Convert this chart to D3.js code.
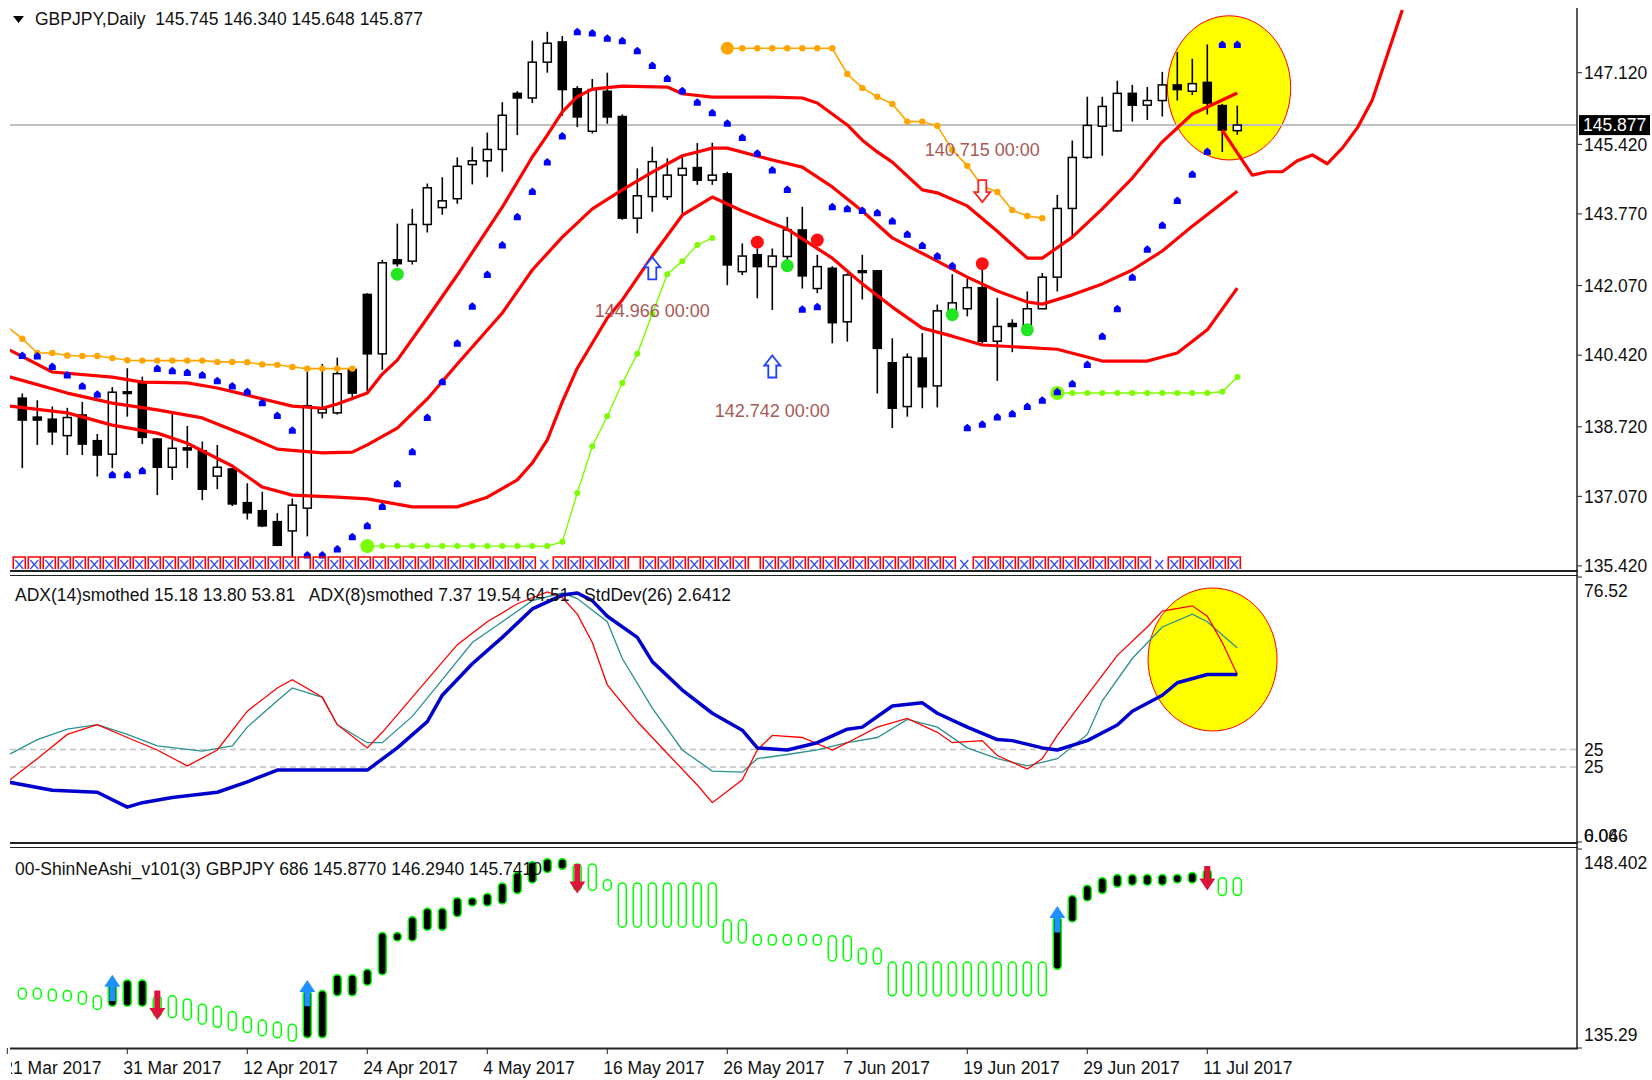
<!DOCTYPE html>
<html>
<head>
<meta charset="utf-8">
<script src="https://cdn.jsdelivr.net/npm/d3@7"></script>
<style>
body { margin: 0; background: #fff; }
svg { display: block; }
text { font-family: "Liberation Sans", Arial, sans-serif; font-size: 17.5px; fill: #111; }
</style>
</head>
<body>
<svg id="chart" width="1652" height="1080"></svg>
<script>
// GBPJPY daily candles, 22 Mar 2017 .. 13 Jul 2017 (bar 0 .. 81)
var opens = [139.40,138.95,138.90,138.51,139.00,138.39,138.07,139.55,139.79,138.43,
	137.76,138.22,138.15,137.55,137.72,136.92,136.73,136.47,136.25,136.79,
	139.05,139.05,140.08,141.86,140.45,142.68,142.65,143.52,143.92,144.13,
	144.94,145.03,145.30,146.63,146.52,147.37,147.85,146.74,145.73,146.68,
	146.08,143.67,144.18,144.18,144.69,144.87,144.57,144.72,142.40,142.80,
	142.52,142.76,143.39,142.00,142.48,141.21,142.42,142.42,140.24,139.20,
	140.35,139.69,141.47,141.52,142.02,140.75,141.17,141.13,141.52,142.27,
	143.90,145.11,145.85,145.74,146.63,146.35,146.46,146.83,146.68,146.89,
	146.34,145.745];
var highs = [139.51,139.35,139.20,139.17,139.31,138.55,139.66,140.11,139.91,138.45,
	139.04,138.74,138.37,138.29,137.74,137.38,137.18,136.67,137.02,140.03,
	140.21,140.36,140.11,141.89,142.68,143.54,143.89,144.49,144.64,145.11,
	145.36,145.70,146.42,146.68,147.88,148.09,147.99,146.80,146.97,147.12,
	146.13,144.85,145.36,145.09,145.13,145.45,145.46,144.77,143.07,142.95,
	142.95,143.70,143.94,142.80,142.53,142.36,142.80,142.44,140.82,140.46,
	140.94,141.62,142.34,142.23,142.44,141.78,141.27,141.93,142.37,144.22,
	145.51,146.55,146.55,146.93,146.83,146.78,147.14,147.61,147.45,147.79,
	146.38,146.340];
var lows = [137.74,138.29,138.29,138.05,138.05,137.54,137.74,138.96,138.31,137.10,
	137.46,137.74,136.98,137.24,136.84,136.52,136.34,135.89,135.64,136.12,
	138.92,139.01,139.35,139.56,140.07,142.52,142.57,143.33,143.75,144.01,
	144.47,144.64,144.77,145.64,146.40,147.12,146.10,145.83,145.68,145.91,
	143.63,143.31,143.82,144.10,143.78,144.46,144.46,142.08,142.32,141.77,
	141.49,142.56,142.00,141.89,140.70,140.74,141.74,139.51,138.69,138.96,
	139.16,139.18,141.34,141.34,140.70,139.81,140.49,141.00,141.51,141.93,
	143.24,145.08,145.15,145.72,145.96,146.00,146.08,146.46,146.59,146.13,
	145.24,145.648];
var closes = [138.88,138.88,138.60,138.94,138.31,138.05,139.54,139.51,138.47,137.76,
	138.21,138.17,137.24,137.76,136.89,136.68,136.37,135.91,136.86,139.22,
	139.14,139.98,139.52,140.45,142.61,142.59,143.52,144.39,144.08,144.90,
	145.03,145.30,146.11,146.52,147.37,147.82,146.72,146.07,146.72,146.07,
	143.67,144.20,145.01,144.69,144.85,144.57,144.69,142.56,142.77,142.52,
	142.77,143.39,142.30,142.52,141.19,142.32,142.38,140.58,139.16,140.37,
	139.67,141.47,141.66,142.02,140.75,141.10,141.10,141.52,142.27,143.90,
	145.11,145.87,146.32,146.63,146.35,146.46,146.83,146.72,146.86,146.40,
	145.76,145.877];

// parabolic SAR, one per bar
var sar = [140.41,140.40,140.15,139.95,139.69,139.49,137.58,137.58,137.68,140.10,
	140.05,140.01,139.95,139.81,139.69,139.55,139.29,138.99,138.64,135.68,
	135.68,135.82,136.11,136.37,136.83,137.37,138.13,138.94,139.79,140.70,
	141.58,142.33,143.03,143.70,144.30,145.00,145.62,148.09,148.06,147.94,
	147.88,147.64,147.29,146.98,146.69,146.42,146.17,145.92,145.58,145.21,
	144.81,144.35,141.51,141.57,143.94,143.89,143.85,143.80,143.60,143.29,
	143.02,142.77,142.54,138.70,138.78,138.95,139.03,139.20,139.35,139.55,
	139.74,140.20,140.87,141.52,142.27,142.93,143.50,144.09,144.71,145.25,
	147.79,147.79];

// envelope bands [bar, price]
var bandUpper = [[-1,140.57],[2,140.02],[6,139.90],[8,139.78],[11,139.76],[13,139.64],[15,139.47],[18,139.21],
	[20,139.16],[21,139.26],[23,139.52],[24,139.97],[25,140.30],[27,141.30],[29,142.32],[32,143.93],[34,145.12],
	[35,145.64],[36,146.19],[37,146.55],[38,146.73],[40,146.80],[43,146.78],[44,146.62],[46,146.54],[50,146.54],
	[52,146.52],[53,146.40],[55,145.88],[56,145.52],[57,145.24],[58,145.00],[60,144.34],[61,144.27],[63,143.96],
	[65,143.36],[67,142.72],[68,142.72],[70,143.22],[72,143.89],[74,144.62],[76,145.48],[78,146.14],[81,146.64]];
var bandMiddle = [[-1,139.92],[3,139.52],[6,139.28],[9,139.12],[12,138.93],[15,138.50],[17,138.19],[20,138.10],
	[22,138.12],[23,138.29],[25,138.69],[27,139.38],[29,140.21],[32,141.42],[34,142.44],[36,143.22],[38,143.89],
	[40,144.34],[42,144.76],[44,145.15],[46,145.33],[47,145.33],[50,145.05],[52,144.88],[54,144.41],[56,143.84],
	[58,143.20],[61,142.65],[63,142.27],[65,141.94],[67,141.68],[68,141.63],[70,141.85],[72,142.11],[74,142.44],
	[76,142.89],[78,143.48],[81,144.31]];
var bandLower = [[-1,139.22],[3,139.05],[6,138.76],[9,138.57],[11,138.33],[14,137.79],[16,137.29],[18,137.10],
	[21,137.05],[23,137.01],[26,136.82],[29,136.82],[31,137.05],[33,137.46],[34,137.86],[35,138.41],[36,139.31],
	[37,140.11],[39,141.30],[40,141.73],[42,142.77],[44,143.74],[46,144.17],[48,143.84],[50,143.55],[51,143.41],
	[54,142.72],[56,142.11],[58,141.56],[60,141.06],[62,140.87],[64,140.66],[69,140.56],[72,140.28],[75,140.28],
	[77,140.47],[79,141.02],[81,142.01]];
var forecast = [[80,145.76],[81,145.22],[82,144.69],[83,144.77],[84,144.77],[85,145.03],[86,145.17],[87,144.96],
	[88,145.33],[89,145.81],[90,146.47],[91,147.54],[92,148.61]];

// support / resistance steps
var orange1 = [[-1,141.09],[0,140.81],[1,140.47],[2,140.47],[3,140.41],[4,140.40],[5,140.40],[6,140.35],[7,140.30],
	[8,140.29],[9,140.29],[10,140.29],[11,140.29],[12,140.29],[13,140.26],[14,140.26],[15,140.25],[16,140.20],
	[17,140.19],[18,140.14],[19,140.10],[20,140.10],[21,140.10],[22,140.10]];
var orange2 = [[47,147.70],[48,147.70],[49,147.70],[50,147.70],[51,147.70],[52,147.70],[53,147.70],[54,147.70],
	[55,147.09],[56,146.76],[57,146.55],[58,146.38],[59,145.96],[60,145.96],[61,145.86],[62,145.29],[63,144.91],
	[64,144.43],[65,144.29],[66,143.86],[67,143.72],[68,143.67]];
var green1 = [[23,135.89],[24,135.89],[25,135.89],[26,135.89],[27,135.89],[28,135.89],[29,135.89],[30,135.89],
	[31,135.89],[32,135.89],[33,135.89],[34,135.89],[35,135.89],[36,135.99],[37,137.15],[38,138.26],[39,138.97],
	[40,139.76],[41,140.45],[42,141.40],[43,142.34],[44,142.65],[45,143.03],[46,143.20]];
var green2 = [[69,139.52],[70,139.52],[71,139.52],[72,139.52],[73,139.52],[74,139.52],[75,139.52],[76,139.52],
	[77,139.52],[78,139.52],[79,139.52],[80,139.55],[81,139.90]];

var redSignals = [[49,143.10],[53,143.15],[64,142.59]];
var greenSignals = [[25,142.34],[51,142.54],[62,141.38],[67,141.02]];
var upMarks = [[42,142.48],[50,140.15]];
var downMarks = [[64,144.31]];
var priceNotes = [[42,141.47,"144.966 00:00"],[50,139.10,"142.742 00:00"],[64,145.30,"140.715 00:00"]];
var priceTicks = [147.120,145.420,143.770,142.070,140.420,138.720,137.070,135.420];
var lastPrice = 145.877;

// ADX window [bar, value]
var adxBlue = [[-1,17.4],[2,15.0],[5,14.4],[7,10.1],[8,11.4],[10,12.9],[13,14.4],[15,17.4],[17,20.8],[19,20.8],
	[23,20.8],[25,27.2],[27,34.8],[28,42.4],[30,51.5],[32,59.1],[34,67.3],[36,71.3],[37,71.9],[38,69.7],[39,65.2],
	[41,59.1],[42,52.1],[44,43.9],[46,37.2],[48,32.3],[49,27.2],[51,26.6],[53,28.7],[55,32.6],[56,33.2],[58,39.3],
	[60,40.2],[61,37.2],[63,33.2],[65,29.6],[66,29.3],[68,27.2],[69,26.6],[71,29.3],[73,33.8],[74,37.8],[76,42.4],
	[77,46.0],[79,48.4],[81,48.4]];
var adxRed = [[-1,17.4],[1,24.1],[3,31.1],[5,33.9],[7,30.2],[9,26.6],[11,22.0],[13,26.6],[15,37.8],[17,44.5],
	[18,46.9],[20,41.8],[21,33.9],[23,27.2],[24,31.7],[27,46.9],[29,57.0],[31,63.6],[33,68.8],[35,72.2],[36,70.6],
	[37,65.8],[38,57.6],[39,45.4],[41,34.8],[43,25.6],[45,16.5],[46,11.4],[48,18.0],[49,26.6],[50,30.8],[52,30.2],
	[54,26.6],[55,28.7],[57,33.2],[59,35.7],[61,31.7],[62,28.7],[64,29.3],[65,25.0],[67,21.1],[68,24.1],[69,30.8],
	[71,42.4],[73,53.9],[75,62.1],[76,66.7],[78,68.2],[79,65.2],[80,57.6],[81,48.4]];
var adxTeal = [[-1,25.0],[1,29.6],[3,32.6],[5,33.9],[7,31.1],[9,27.8],[12,26.3],[14,27.8],[15,33.2],[17,40.8],
	[18,44.5],[20,41.8],[21,33.9],[23,28.7],[24,28.7],[26,36.3],[28,46.9],[30,57.6],[32,63.6],[34,69.7],[36,71.9],
	[37,70.3],[39,63.6],[40,53.0],[42,38.7],[44,26.6],[46,20.5],[48,20.2],[49,24.1],[51,25.3],[53,26.6],[55,28.7],
	[57,30.2],[59,35.4],[61,33.2],[63,27.2],[65,24.1],[67,22.0],[69,24.1],[71,31.1],[72,40.8],[74,53.0],[76,62.1],
	[78,65.8],[79,63.6],[81,56.0]];
var adxLevel = 25;

// ShinNeAshi bricks: high, low, 1 = rising (black)
var shinHi = [139.15,139.15,139.08,139.00,138.94,138.65,139.71,139.71,139.71,138.65,
	138.65,138.44,138.09,137.95,137.60,137.25,137.03,136.89,136.75,139.00,
	139.00,140.06,140.06,140.42,142.88,142.88,143.94,144.51,144.51,145.21,
	145.21,145.49,146.20,146.90,147.61,147.82,147.82,147.47,147.47,146.41,
	146.20,146.20,146.20,146.20,146.20,146.20,146.20,143.73,143.73,142.74,
	142.74,142.74,142.74,142.74,142.67,142.67,141.83,141.83,140.91,140.91,
	140.91,140.91,140.91,140.91,140.91,140.91,140.91,140.91,140.91,143.94,
	145.35,146.05,146.55,146.76,146.76,146.76,146.76,146.76,146.90,147.11,
	146.55,146.55];
var shinLo = [138.44,138.44,138.30,138.30,138.09,137.74,137.95,137.95,137.95,137.25,
	137.18,137.03,136.75,136.54,136.33,136.19,135.98,135.84,135.62,135.84,
	135.84,138.65,138.65,139.36,140.06,142.32,142.32,143.03,143.03,143.94,
	144.65,144.65,144.79,145.49,146.20,146.90,147.11,145.70,145.70,145.70,
	143.24,143.24,143.24,143.24,143.24,143.24,143.24,142.18,142.18,142.04,
	142.04,142.04,142.04,142.04,140.98,140.98,140.77,140.77,138.65,138.65,
	138.65,138.65,138.65,138.65,138.65,138.65,138.65,138.65,138.65,140.42,
	143.59,144.99,145.49,145.92,146.05,146.05,146.05,146.20,146.20,146.20,
	145.35,145.35];
var shinRise = [0,0,0,0,0,0,1,1,1,0, 0,0,0,0,0,0,0,0,0,1, 1,1,1,1,1,1,1,1,1,1,
	1,1,1,1,1,1,1,0,0,0, 0,0,0,0,0,0,0,0,0,0, 0,0,0,0,0,0,0,0,0,0,
	0,0,0,0,0,0,0,0,0,1, 1,1,1,1,1,1,1,1,1,1, 0,0];
var shinUpArrows = [[6,140.06,138.30],[19,139.71,137.95],[69,144.65,142.88]];
var shinDownArrows = [[9,139.00,137.03],[37,147.47,145.49],[79,147.33,145.70]];

// symbol row under the price chart: b = box+cross, x = cross only, r = box only
var symbolRow = "bbbbbbbbbbbbbbbbbbbrbbbbbbbbbbbbbbbxbbbbbrbbbbbbbrbbbbbbbbbbbbbxbbbbbbbbbbbbxbbbbb";

var tickBars = [-1,7,15,23,31,39,47,55,63,71,79];
var tickLabels = ["21 Mar 2017","31 Mar 2017","12 Apr 2017","24 Apr 2017","4 May 2017","16 May 2017",
	"26 May 2017","7 Jun 2017","19 Jun 2017","29 Jun 2017","11 Jul 2017"];

var svg = d3.select("#chart");
var left = 10, axisX = 1577;
var mainBox = {top: 8, bottom: 571},
	adxBox = {top: 576, bottom: 843},
	shinBox = {top: 848, bottom: 1048};

var x = d3.scaleLinear().domain([0, 81]).range([22.3, 1237.3]);
var yMain = d3.scaleLinear().domain([135.42, 147.12]).range([565.9, 72.7]);
var yAdx = d3.scaleLinear().domain([0.046, 76.52]).range([842, 577]);
// the two ADX indicators share the window, each with its own min
var yAdx8 = d3.scaleLinear().domain([0.046, 76.52]).range([836, 571]);
var yAdx14 = d3.scaleLinear().domain([6.06, 76.52]).range([839, 571]);
var yShin = d3.scaleLinear().domain([135.29, 148.402]).range([1046, 850]);

var defs = svg.append("defs");
[["clipMain", mainBox], ["clipAdx", adxBox], ["clipShin", shinBox]].forEach(function(c) {
	defs.append("clipPath").attr("id", c[0]).append("rect")
		.attr("x", left).attr("y", c[1].top)
		.attr("width", axisX - left).attr("height", c[1].bottom - c[1].top);
});
defs.append("clipPath").attr("id", "clipDates").append("rect")
	.attr("x", 11).attr("y", 1050).attr("width", 1600).attr("height", 30);

function pairLine(scaleY) {
	return d3.line().x(function(d) { return x(d[0]); }).y(function(d) { return scaleY(d[1]); });
}

// ---------- main window ----------
var gMain = svg.append("g").attr("clip-path", "url(#clipMain)");

var e1 = {bar0: 76.34, bar1: 84.56, top: 148.47, bottom: 145.05};
gMain.append("ellipse")
	.attr("cx", (x(e1.bar0) + x(e1.bar1)) / 2).attr("cy", (yMain(e1.top) + yMain(e1.bottom)) / 2)
	.attr("rx", (x(e1.bar1) - x(e1.bar0)) / 2).attr("ry", (yMain(e1.bottom) - yMain(e1.top)) / 2)
	.attr("fill", "#ffff00").attr("stroke", "#ff0000").attr("stroke-width", 1);

gMain.append("line")
	.attr("x1", left).attr("x2", axisX)
	.attr("y1", yMain(lastPrice)).attr("y2", yMain(lastPrice))
	.attr("stroke", "#c0c0c0").attr("stroke-width", 2);

var bars = d3.range(closes.length);
var gCandle = gMain.append("g");
gCandle.selectAll("line").data(bars).enter().append("line")
	.attr("x1", function(i) { return x(i); }).attr("x2", function(i) { return x(i); })
	.attr("y1", function(i) { return yMain(highs[i]); })
	.attr("y2", function(i) { return yMain(lows[i]); })
	.attr("stroke", "#000").attr("stroke-width", 1.6);
gCandle.selectAll("rect").data(bars).enter().append("rect")
	.attr("x", function(i) { return x(i) - 4; }).attr("width", 8)
	.attr("y", function(i) { return yMain(Math.max(opens[i], closes[i])); })
	.attr("height", function(i) { return Math.max(1.5, Math.abs(yMain(opens[i]) - yMain(closes[i]))); })
	.attr("fill", function(i) { return closes[i] >= opens[i] ? "#fff" : "#000"; })
	.attr("stroke", "#000").attr("stroke-width", 1.5);

// orange and green step lines
function stepLine(data, color, dotR, bigR, w) {
	var g = gMain.append("g");
	g.append("path").attr("d", pairLine(yMain)(data))
		.attr("fill", "none").attr("stroke", color).attr("stroke-width", w);
	g.selectAll("circle").data(data.filter(function(d) { return d[0] >= 0; })).enter().append("circle")
		.attr("cx", function(d) { return x(d[0]); }).attr("cy", function(d) { return yMain(d[1]); })
		.attr("r", function(d, k) { return k === 0 && bigR ? bigR : dotR; })
		.attr("fill", color);
}
stepLine(orange1, "#ffa500", 3.2, 0, 1.6);
stepLine(orange2, "#ffa500", 3.2, 6.5, 1.6);
stepLine(green1, "#7cfc00", 3, 7, 1.4);
stepLine(green2, "#7cfc00", 3, 7, 1.4);

[bandUpper, bandMiddle, bandLower, forecast].forEach(function(b) {
	gMain.append("path").attr("d", pairLine(yMain)(b))
		.attr("fill", "none").attr("stroke", "#ff0000").attr("stroke-width", 3.2)
		.attr("stroke-linejoin", "round");
});

gMain.selectAll("path.sar").data(sar).enter().append("path")
	.attr("class", "sar")
	.attr("d", function(v, i) {
		var cx = x(i), cy = yMain(v);
		return "M" + cx + "," + (cy - 4) + "L" + (cx + 3.5) + "," + (cy - 1) + "L" + (cx + 3.5) + "," + (cy + 3.5) +
			"L" + (cx - 3.5) + "," + (cy + 3.5) + "L" + (cx - 3.5) + "," + (cy - 1) + "Z";
	})
	.attr("fill", "#0000ff");

gMain.selectAll("circle.sigR").data(redSignals).enter().append("circle")
	.attr("cx", function(d) { return x(d[0]); }).attr("cy", function(d) { return yMain(d[1]); })
	.attr("r", 6.5).attr("fill", "#ff1010");
gMain.selectAll("circle.sigG").data(greenSignals).enter().append("circle")
	.attr("cx", function(d) { return x(d[0]); }).attr("cy", function(d) { return yMain(d[1]); })
	.attr("r", 6.5).attr("fill", "#22e622");

function hollowArrow(cx, cy, dir) {
	var s = dir;
	return "M" + cx + "," + (cy - 11 * s) + "L" + (cx + 8) + "," + (cy - 1 * s) + "L" + (cx + 4) + "," + (cy - 1 * s) +
		"L" + (cx + 4) + "," + (cy + 11 * s) + "L" + (cx - 4) + "," + (cy + 11 * s) + "L" + (cx - 4) + "," + (cy - 1 * s) +
		"L" + (cx - 8) + "," + (cy - 1 * s) + "Z";
}
gMain.selectAll("path.up").data(upMarks).enter().append("path")
	.attr("d", function(d) { return hollowArrow(x(d[0]), yMain(d[1]), 1); })
	.attr("fill", "#fff").attr("stroke", "#2040ff").attr("stroke-width", 1.8);
gMain.selectAll("path.dn").data(downMarks).enter().append("path")
	.attr("d", function(d) { return hollowArrow(x(d[0]), yMain(d[1]), -1); })
	.attr("fill", "#fff").attr("stroke", "#ff2020").attr("stroke-width", 1.8);
gMain.selectAll("text.note").data(priceNotes).enter().append("text")
	.attr("x", function(d) { return x(d[0]); }).attr("y", function(d) { return yMain(d[1]); })
	.attr("dy", "0.35em").attr("text-anchor", "middle")
	.style("fill", "#a85a55").style("font-size", "18px")
	.text(function(d) { return d[2]; });

// symbol row
var rowY = 563;
var gRow = gMain.append("g");
symbolRow.split("").forEach(function(t, i) {
	var cx = x(i) - 3;
	if (t !== "x") {
		gRow.append("path")
			.attr("d", "M" + (cx - 6) + "," + (rowY + 6) + "V" + (rowY - 6) + "H" + (cx + 6) + "V" + (rowY + 6))
			.attr("fill", "none").attr("stroke", "#ff0000").attr("stroke-width", 1.6);
	}
	if (t !== "r") {
		gRow.append("path")
			.attr("d", "M" + (cx - 4) + "," + (rowY - 3) + "L" + (cx + 4) + "," + (rowY + 6) +
				"M" + (cx + 4) + "," + (rowY - 3) + "L" + (cx - 4) + "," + (rowY + 6))
			.attr("fill", "none").attr("stroke", "#3050ff").attr("stroke-width", 1.3);
	}
});

// ---------- ADX window ----------
var gAdx = svg.append("g").attr("clip-path", "url(#clipAdx)");
var e2 = {bar0: 75.05, bar1: 83.65, top: 73.35, bottom: 32.08};
gAdx.append("ellipse")
	.attr("cx", (x(e2.bar0) + x(e2.bar1)) / 2).attr("cy", (yAdx(e2.top) + yAdx(e2.bottom)) / 2)
	.attr("rx", (x(e2.bar1) - x(e2.bar0)) / 2).attr("ry", (yAdx(e2.bottom) - yAdx(e2.top)) / 2)
	.attr("fill", "#ffff00").attr("stroke", "#ff0000").attr("stroke-width", 1);
[yAdx8(adxLevel), yAdx14(adxLevel)].forEach(function(yy) {
	gAdx.append("line").attr("x1", left).attr("x2", axisX).attr("y1", yy).attr("y2", yy)
		.attr("stroke", "#c0c0c0").attr("stroke-width", 1.5).attr("stroke-dasharray", "6,4");
});
gAdx.append("path").attr("d", pairLine(yAdx)(adxTeal))
	.attr("fill", "none").attr("stroke", "#2a9090").attr("stroke-width", 1.3);
gAdx.append("path").attr("d", pairLine(yAdx)(adxRed))
	.attr("fill", "none").attr("stroke", "#ff0000").attr("stroke-width", 1.3);
gAdx.append("path").attr("d", pairLine(yAdx)(adxBlue))
	.attr("fill", "none").attr("stroke", "#0000cd").attr("stroke-width", 3.5)
	.attr("stroke-linejoin", "round");

// ---------- ShinNeAshi window ----------
var gShin = svg.append("g").attr("clip-path", "url(#clipShin)");
gShin.selectAll("rect").data(bars).enter().append("rect")
	.attr("x", function(i) { return x(i) - 4; }).attr("width", 8)
	.attr("y", function(i) { return yShin(shinHi[i]); })
	.attr("height", function(i) { return yShin(shinLo[i]) - yShin(shinHi[i]); })
	.attr("rx", 4).attr("ry", 4)
	.attr("fill", function(i) { return shinRise[i] ? "#000" : "#fff"; })
	.attr("stroke", "#00ff00").attr("stroke-width", 1.5);

function solidArrow(cx, yTip, yEnd) {
	var dir = yEnd > yTip ? 1 : -1, head = 12 * dir;
	return "M" + cx + "," + yTip + "L" + (cx + 8) + "," + (yTip + head) + "L" + (cx + 3) + "," + (yTip + head) +
		"L" + (cx + 3) + "," + yEnd + "L" + (cx - 3) + "," + yEnd + "L" + (cx - 3) + "," + (yTip + head) +
		"L" + (cx - 8) + "," + (yTip + head) + "Z";
}
gShin.selectAll("path.su").data(shinUpArrows).enter().append("path")
	.attr("d", function(d) { return solidArrow(x(d[0]), yShin(d[1]), yShin(d[2])); })
	.attr("fill", "#1e90ff");
gShin.selectAll("path.sd").data(shinDownArrows).enter().append("path")
	.attr("d", function(d) { return solidArrow(x(d[0]), yShin(d[2]), yShin(d[1])); })
	.attr("fill", "#dc143c");

// ---------- frames and axes ----------
var frame = svg.append("g").attr("stroke", "#222").attr("fill", "none");
frame.append("line").attr("x1", axisX).attr("x2", axisX).attr("y1", mainBox.top).attr("y2", shinBox.bottom + 1)
	.attr("stroke-width", 1.5);
[[571, 2], [575.5, 1.2], [843, 2], [847.5, 1.2], [1048.5, 2]].forEach(function(s) {
	frame.append("line").attr("x1", left).attr("x2", axisX + 1).attr("y1", s[0]).attr("y2", s[0])
		.attr("stroke-width", s[1]);
});

var gAxis = svg.append("g");
priceTicks.forEach(function(p) {
	gAxis.append("line").attr("x1", axisX).attr("x2", axisX + 5).attr("y1", yMain(p)).attr("y2", yMain(p))
		.attr("stroke", "#222");
	gAxis.append("text").attr("x", axisX + 7).attr("y", yMain(p)).attr("dy", "0.36em").text(p.toFixed(3));
});
gAxis.append("rect").attr("x", axisX + 2).attr("y", yMain(lastPrice) - 10).attr("width", 71).attr("height", 20)
	.attr("fill", "#000");
gAxis.append("text").attr("x", axisX + 6).attr("y", yMain(lastPrice)).attr("dy", "0.36em")
	.style("fill", "#fff").text(lastPrice.toFixed(3));

// top / bottom limits of the ADX window: both indicators print their own min at the same spot
var adxLabels = [["76.52", adxBox.top + 15], ["25", yAdx8(adxLevel)], ["25", yAdx14(adxLevel)],
	["6.06", 836], ["0.046", 836]];
adxLabels.forEach(function(l) {
	gAxis.append("text").attr("x", axisX + 7).attr("y", l[1]).attr("dy", "0.36em").text(l[0]);
});
[adxBox.top + 1, adxBox.bottom - 1, shinBox.top + 1, shinBox.bottom].forEach(function(yy) {
	gAxis.append("line").attr("x1", axisX).attr("x2", axisX + 5).attr("y1", yy).attr("y2", yy).attr("stroke", "#222");
});
gAxis.append("text").attr("x", axisX + 7).attr("y", shinBox.top + 15).attr("dy", "0.36em").text("148.402");
gAxis.append("text").attr("x", axisX + 7).attr("y", shinBox.bottom - 13).attr("dy", "0.36em").text("135.29");

var gDates = gAxis.append("g").attr("clip-path", "url(#clipDates)");
tickBars.forEach(function(b, k) {
	gAxis.append("line").attr("x1", x(b)).attr("x2", x(b)).attr("y1", shinBox.bottom).attr("y2", shinBox.bottom + 6)
		.attr("stroke", "#222");
	gDates.append("text").attr("x", x(b) - 4).attr("y", 1068).attr("dy", "0.36em").text(tickLabels[k]);
});

// window captions
svg.append("path").attr("d", "M13,16H24L18.5,23Z").attr("fill", "#000");
svg.append("text").attr("x", 35).attr("y", 19).attr("dy", "0.36em")
	.text("GBPJPY,Daily  145.745 146.340 145.648 145.877").attr("xml:space", "preserve");
svg.append("text").attr("x", 15).attr("y", 595).attr("dy", "0.36em").attr("xml:space", "preserve")
	.text("ADX(14)smothed 15.18 13.80 53.81   ADX(8)smothed 7.37 19.54 64.51   StdDev(26) 2.6412");
svg.append("text").attr("x", 15).attr("y", 869).attr("dy", "0.36em")
	.text("00-ShinNeAshi_v101(3) GBPJPY 686 145.8770 146.2940 145.7410");
</script>
</body>
</html>
